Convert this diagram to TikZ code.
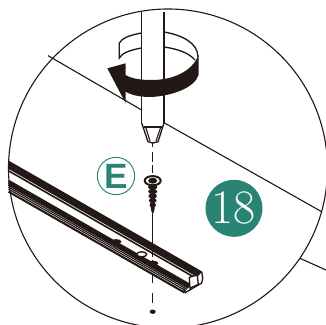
\documentclass[tikz,border=0pt]{standalone}
\usepackage{fontspec}
\usepackage{xcolor}
\usetikzlibrary{positioning}
\newfontfamily\labelfont{Liberation Sans}
\definecolor{stepteal}{HTML}{2A8475}
\definecolor{inkblack}{HTML}{231815}
\tikzset{
    outline/.style={draw=inkblack, line width=1.15pt},
    thinline/.style={draw=inkblack, line width=0.95pt},
    axisdash/.style={draw=inkblack, line width=1.1pt},
}

\begin{document}
\begin{tikzpicture}[x=0.03cm, y=-0.03cm]
    \useasboundingbox (0,0) rectangle (326,324);
    \clip (0,0) rectangle (326,324);

    % Detail circle
    \draw[thinline] (168,168.5) circle (159.5);

    % Surface edges
    \draw[thinline] (48,55.6) -- (141.7,110);
    \draw[thinline] (164,122.7) -- (321.7,211.7);
    \draw[thinline] (300,258.3) -- (326,270);

    % Rail
    \foreach \d/\w in {1/2.2, 3.2/1.9, 5.4/1.9, 7/1.3, 9.8/1.4, 20/2.2, 22.2/2, 24/1.4, 26/1, 28/1, 30.6/1.8} {
        \draw[draw=inkblack, line width=\w pt] (8.5,161+\d) -- (201.7-0.566*\d,271.7+0.678*\d);
    }
    \draw[outline, line join=round] (201.7,271.7) -- (202.7,278) -- (201.7,283) -- (185,292.8) -- (183.6,288.4);
    \draw[outline, fill=white] (189.3,277.3) -- (190,288.3) -- (198.3,284.3) -- (197.3,275) -- cycle;
    \draw[thinline] (197.3,275) -- (201.7,271.7);
    \draw[outline, fill=white] (141.7,254.3) ellipse (5 and 2.5);
    \fill[inkblack] (116,241.7) ellipse (5.5 and 2.6);
    \fill[inkblack] (153.3,263.3) ellipse (5 and 2.6);

    % Driver shaft
    \draw[outline] (141.7,11.5) -- (141.7,123);
    \draw[outline] (164,11.5) -- (164,123);
    \draw[outline, line join=round] (141.7,123) -- (148,141.7) -- (152.7,143) -- (158,141.7) -- (164,123);
    \draw[thinline] (143.5,127) -- (162,127);
    \draw[thinline] (146,128) -- (150,141);
    \draw[thinline] (160.5,128) -- (156,141);

    % Turning band
    \draw[outline] (141.7,33) .. controls (130,35) and (122,38) .. (119.3,43) -- (119.3,58) .. controls (122,53) and (130,50) .. (141.7,48);
    \draw[outline] (164,32) .. controls (182,35) and (198,43) .. (198,57);
    \draw[outline] (164,47) .. controls (178,49) and (189,53) .. (195,60);
    \fill[inkblack] (198.5,55) -- (198.5,75) .. controls (195,88) and (170,96.5) .. (150,97) .. controls (140,97) and (131,95) .. (125.7,91.7) -- (125.7,103.3) -- (107.3,68.3) -- (125.7,63.3) -- (125.7,75) .. controls (132,79) and (142,80) .. (152,80) .. controls (172,80) and (192,72) .. cycle;

    % Axis through tip and screw
    \draw[axisdash] (152.7,143) -- (152.7,147);
    \draw[axisdash] (152.7,152) -- (152.7,162);
    \draw[axisdash] (152.7,165) -- (152.7,173);
    \draw[axisdash] (152.7,211) -- (152.7,257);
    \draw[axisdash] (152.7,260) -- (152.7,268);
    \draw[axisdash] (152.7,273) -- (152.7,283);
    \draw[axisdash] (152.7,293) -- (152.7,303);
    \fill[inkblack] (152.7,311.7) ellipse (3 and 2.2);

    % Screw
    \draw[draw=inkblack, line width=1.7pt] (152.7,180.7) ellipse (8 and 4.6);
    \fill[inkblack] (152.7,180.7) ellipse (4.5 and 3);
    \foreach \y/\r in {187/4.8, 191.5/4.6, 196/4.3, 200.5/3.9, 205/3.2} {
        \fill[inkblack] (152.7,\y) ellipse ({\r} and 2.6);
    }
    \fill[inkblack] (150.3,185) -- (155.1,185) -- (154.6,209) -- (153.4,213) -- (152,213) -- (150.8,209) -- cycle;

    % Labels
    \node[circle, draw=stepteal, line width=0.8pt, minimum size=1.12cm, inner sep=0pt, text=stepteal, font=\labelfont\bfseries\fontsize{30}{30}\selectfont] (partE) at (116,176) {E};
    \node[circle, fill=stepteal, minimum size=1.71cm, inner sep=0pt, text=white, font=\fontsize{41}{41}\selectfont] (stepnum) at (234,208.3) {18};
\end{tikzpicture}
\end{document}
